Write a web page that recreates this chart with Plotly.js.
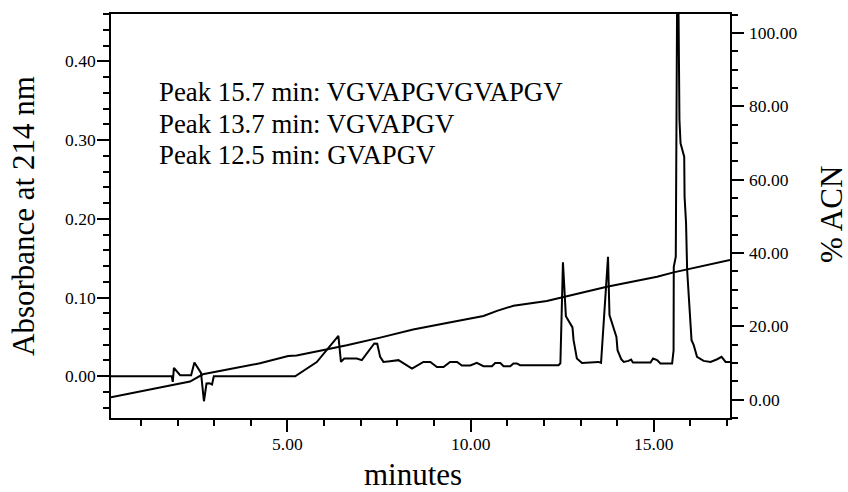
<!DOCTYPE html>
<html>
<head>
<meta charset="utf-8">
<script src="https://cdn.plot.ly/plotly-3.0.1.min.js"></script>
<style>html,body{margin:0;padding:0;background:#fff;}#chart{width:848px;height:492px;}</style>
</head>
<body>
<div id="chart"></div>
<script>
// Absorbance at 214 nm (left axis) vs time (minutes)
const absTime = [0.18, 1.84, 1.87, 1.90, 2.07, 2.37, 2.46, 2.64, 2.72, 2.79, 2.87, 2.94, 2.99,
  5.21, 5.80, 6.39, 6.46, 6.55, 6.89, 7.03, 7.37, 7.45, 7.53, 7.62, 7.80, 8.03, 8.40, 8.71, 8.90,
  9.08, 9.26, 9.44, 9.63, 9.76, 9.99, 10.17, 10.35, 10.58, 10.67, 10.81, 10.90, 11.08, 11.17, 11.26,
  11.35, 12.40, 12.45, 12.52, 12.60, 12.72, 12.78, 12.81, 12.90, 13.04, 13.27, 13.49, 13.56, 13.75,
  13.79, 13.90, 13.98, 14.01, 14.11, 14.18, 14.31, 14.38, 14.43, 14.91, 14.98, 15.09, 15.18, 15.50,
  15.54, 15.545, 15.60, 15.65, 15.70, 15.73, 15.83, 15.84, 15.88, 15.91, 15.97, 16.03, 16.09, 16.18,
  16.36, 16.55, 16.73, 16.85, 16.96, 17.08];
const absValue = [0, 0, -0.0072, 0.0106, 0.0013, 0.0013, 0.0175, 0.0042, -0.0318, -0.0093, -0.0089, -0.0106, 0,
  0, 0.018, 0.0513, 0.0182, 0.0225, 0.0225, 0.0204, 0.0416, 0.0413, 0.0246, 0.0182, 0.0191, 0.0204, 0.0098, 0.0182, 0.0182,
  0.0118, 0.0118, 0.0182, 0.0182, 0.0136, 0.0136, 0.0169, 0.0127, 0.0127, 0.0169, 0.0169, 0.0127, 0.0127, 0.0162, 0.0162,
  0.014, 0.014, 0.0165, 0.1447, 0.0763, 0.067, 0.062, 0.0458, 0.0225, 0.0169, 0.0174, 0.0182, 0.0169, 0.1518,
  0.0776, 0.0627, 0.05, 0.0331, 0.0216, 0.0182, 0.0195, 0.0212, 0.0174, 0.0174, 0.0225, 0.0204, 0.0162, 0.0162,
  0.033, 0.139, 0.152, 0.60, 0.326, 0.296, 0.279, 0.228, 0.195, 0.135, 0.088, 0.0458, 0.0394, 0.0246,
  0.0195, 0.0182, 0.0216, 0.0246, 0.0182, 0.0182];

// % ACN gradient (right axis)
const acnTime = [0.18, 2.34, 2.69, 4.25, 5.02, 5.25, 5.89, 6.62, 7.53, 8.43, 9.35, 10.35, 10.72, 11.17, 12.08, 12.99, 13.72, 15.09, 15.54, 17.08];
const acnValue = [0.6, 4.9, 6.9, 9.9, 11.9, 12.0, 13.3, 14.8, 16.9, 19.1, 20.9, 22.8, 24.2, 25.6, 26.9, 29.0, 30.8, 33.5, 34.7, 38.1];

// Tick values (labels shown with two decimals)
const xTicks = [5, 10, 15];
const yTicks = [0, 0.1, 0.2, 0.3, 0.4];
const y2Ticks = [0, 20, 40, 60, 80, 100];

const peakLabels = ["Peak 15.7 min: VGVAPGVGVAPGV", "Peak 13.7 min: VGVAPGV", "Peak 12.5 min: GVAPGV"];
const xTitle = "minutes";
const yTitle = "Absorbance at 214 nm";
const y2Title = "% ACN";

const FONT = "Liberation Serif";
const W = 848, H = 492;
const M = {l: 111, r: 118, t: 14, b: 74};
const PW = W - M.l - M.r, PH = H - M.t - M.b;
const px = v => (v - M.l) / PW;
const py = v => (H - M.b - v) / PH;
const tickFont = {family: FONT, size: 17.5, color: '#000'};

const traces = [
  {x: absTime, y: absValue, type: 'scatter', mode: 'lines', line: {color: '#000', width: 2}, yaxis: 'y', hoverinfo: 'skip'},
  {x: acnTime, y: acnValue, type: 'scatter', mode: 'lines', line: {color: '#000', width: 2}, yaxis: 'y2', hoverinfo: 'skip'}
];

function axisCommon() {
  return {
    showgrid: false, zeroline: false, showline: true, linecolor: '#000', linewidth: 2,
    ticks: 'outside', ticklen: 12, tickwidth: 2, tickcolor: '#000', showticklabels: false
  };
}

const annotations = [];
// tick labels placed through the axes' own scales
xTicks.forEach(v => annotations.push({text: v.toFixed(2), xref: 'x', yref: 'paper', x: v, y: 0, yshift: -25.5,
  xanchor: 'center', yanchor: 'middle', showarrow: false, font: tickFont}));
yTicks.forEach(v => annotations.push({text: v.toFixed(2), xref: 'paper', yref: 'y', x: px(98), y: v,
  xanchor: 'right', yanchor: 'middle', showarrow: false, font: tickFont}));
y2Ticks.forEach(v => annotations.push({text: v.toFixed(2), xref: 'paper', yref: 'y2', x: px(747), y: v,
  xanchor: 'left', yanchor: 'middle', showarrow: false, font: tickFont}));

peakLabels.forEach((t, i) => annotations.push({
  text: t, xref: 'paper', yref: 'paper', x: px(157), y: py(92.5 + i * 31),
  xanchor: 'left', yanchor: 'middle', showarrow: false,
  font: {family: FONT, size: 26.8, color: '#000'}
}));
annotations.push({text: xTitle, xref: 'paper', yref: 'paper', x: px(412.7), y: py(475),
  xanchor: 'center', yanchor: 'middle', showarrow: false, font: {family: FONT, size: 31, color: '#000'}});
annotations.push({text: yTitle, xref: 'paper', yref: 'paper', x: px(23), y: py(216),
  xanchor: 'center', yanchor: 'middle', textangle: -90, showarrow: false, font: {family: FONT, size: 31, color: '#000'}});
annotations.push({text: y2Title, xref: 'paper', yref: 'paper', x: px(831), y: py(215),
  xanchor: 'center', yanchor: 'middle', textangle: -90, showarrow: false, font: {family: FONT, size: 31, color: '#000'}});

const layout = {
  width: W, height: H, margin: M, showlegend: false,
  font: {family: FONT, size: 17, color: '#000'},
  paper_bgcolor: '#fff', plot_bgcolor: '#fff',
  xaxis: Object.assign(axisCommon(), {range: [0.183, 17.08], tickmode: 'array', tickvals: xTicks, mirror: true,
    minor: {dtick: 1, tick0: 0, ticks: 'outside', ticklen: 6, tickwidth: 2, tickcolor: '#000'}}),
  yaxis: Object.assign(axisCommon(), {range: [-0.0531, 0.4603], tickmode: 'array', tickvals: yTicks,
    minor: {dtick: 0.02, tick0: 0, ticks: 'outside', ticklen: 6, tickwidth: 2, tickcolor: '#000'}}),
  yaxis2: Object.assign(axisCommon(), {range: [-5.03, 105.19], tickmode: 'array', tickvals: y2Ticks, overlaying: 'y', side: 'right',
    minor: {dtick: 5, tick0: 0, ticks: 'outside', ticklen: 6, tickwidth: 2, tickcolor: '#000'}}),
  annotations: annotations
};

Plotly.newPlot('chart', traces, layout, {displayModeBar: false});
</script>
</body>
</html>
